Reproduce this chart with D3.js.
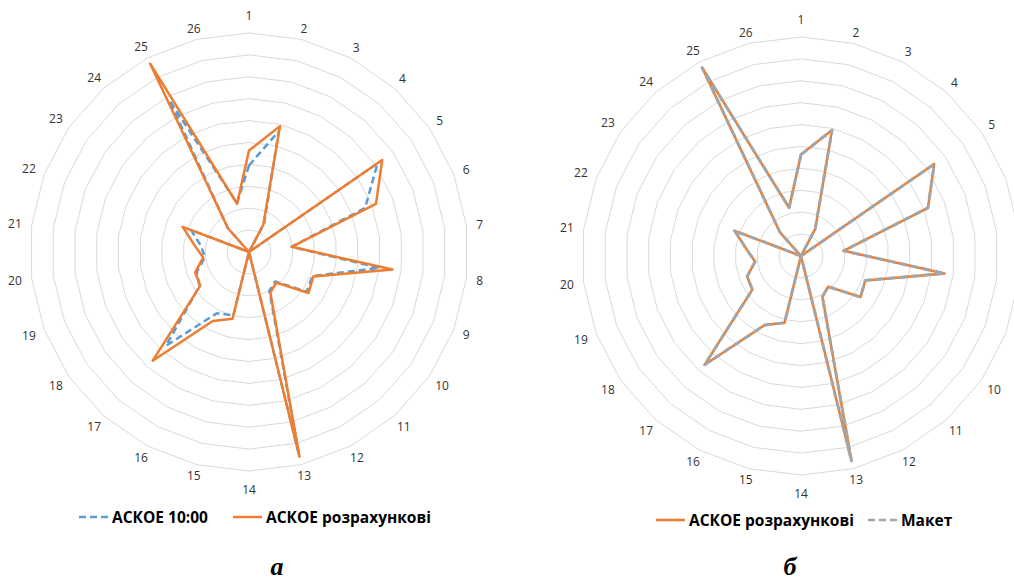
<!DOCTYPE html>
<html>
<head>
<meta charset="utf-8">
<script src="https://cdn.jsdelivr.net/npm/d3@7"></script>
<style>
  html, body { margin: 0; padding: 0; background: #ffffff; }
  svg { display: block; }
</style>
</head>
<body>
<svg id="chart" width="1014" height="581"></svg>
<script>
// Feeder indices around the radar
const categories = ["1","2","3","4","5","6","7","8","9","10","11","12","13",
                    "14","15","16","17","18","19","20","21","22","23","24","25","26"];

// Grid ring levels
const ringLevels = [1, 2, 3, 4, 5, 6, 7, 8, 9, 10];

// АСКОЕ 10:00
const askoe1000 = [3.95, 5.68, 1.50, 0, 7.13, 5.67, 1.96, 6.00, 3.10, 3.20, 1.80, 2.00, 9.60,
                   0, 2.98, 3.16, 5.72, 2.75, 2.55, 2.03, 2.20, 2.83, 0, 1.45, 7.81, 2.30];

// АСКОЕ розрахункові
const askoeCalc = [4.63, 5.92, 1.40, 0, 7.39, 6.20, 1.96, 6.60, 3.14, 3.30, 1.87, 2.10, 9.63,
                   0, 3.14, 3.56, 6.63, 2.70, 2.63, 2.11, 2.50, 3.24, 0, 1.45, 9.71, 2.27];

// Макет
const maket = [4.63, 5.92, 1.40, 0, 7.39, 6.20, 1.96, 6.60, 3.14, 3.30, 1.87, 2.10, 9.63,
               0, 3.14, 3.56, 6.63, 2.70, 2.63, 2.11, 2.50, 3.24, 0, 1.45, 9.71, 2.27];

const COLORS = { blue: "#5B9BD5", orange: "#ED7D31", gray: "#A5A5A5", grid: "#D9D9D9", text: "#333333" };

const svg = d3.select("#chart");
const R = 219;

const r = d3.scaleLinear().domain([0, 10]).range([0, R]);
const angle = d3.scalePoint().domain(categories).range([0, 2 * Math.PI * (categories.length - 1) / categories.length]);

const radial = d3.lineRadial()
  .angle((d, i) => angle(categories[i]))
  .radius(d => r(d))
  .curve(d3.curveLinearClosed);

function drawRadar(cx, cy, series, legend, caption) {
  const g = svg.append("g").attr("transform", `translate(${cx},${cy})`);

  // concentric polygon grid
  g.append("g").selectAll("path")
    .data(ringLevels)
    .join("path")
    .attr("d", lv => radial(categories.map(() => lv)))
    .attr("fill", "none")
    .attr("stroke", COLORS.grid)
    .attr("stroke-width", 1);

  // category labels, pushed out by half their width on the sides
  g.append("g").selectAll("text")
    .data(categories)
    .join("text")
    .attr("font-family", "Open Sans, sans-serif")
    .attr("font-size", 12)
    .attr("fill", COLORS.text)
    .attr("text-anchor", "middle")
    .attr("dominant-baseline", "central")
    .text(d => d)
    .each(function (d) {
      const a = angle(d);
      const w = this.getComputedTextLength();
      const s = Math.sin(a), c = Math.cos(a);
      const dist = Math.abs(s) < 0.01 ? 237 : 229 + (w / 2) * Math.abs(s);
      d3.select(this).attr("x", s * dist).attr("y", -c * dist);
    });

  // data series
  series.forEach(s => {
    g.append("path")
      .attr("d", radial(s.values))
      .attr("fill", "none")
      .attr("stroke", s.color)
      .attr("stroke-width", s.width)
      .attr("stroke-dasharray", s.dash || null)
      .attr("stroke-linejoin", "round")
      .attr("stroke-linecap", "butt");
  });

  // legend
  const lg = svg.append("g");
  legend.forEach(item => {
    lg.append("line")
      .attr("x1", item.x).attr("x2", item.x + 29)
      .attr("y1", item.y).attr("y2", item.y)
      .attr("stroke", item.color)
      .attr("stroke-width", item.width)
      .attr("stroke-dasharray", item.dash || null);
    lg.append("text")
      .attr("x", item.x + 33)
      .attr("y", item.y)
      .attr("dominant-baseline", "central")
      .attr("font-family", "Open Sans, sans-serif")
      .attr("font-weight", "bold")
      .attr("font-size", 15.5)
      .attr("fill", "#000000")
      .text(item.label);
  });

  // panel caption
  svg.append("text")
    .attr("x", caption.x)
    .attr("y", caption.y)
    .attr("text-anchor", "middle")
    .attr("font-family", "Liberation Serif, serif")
    .attr("font-weight", "bold")
    .attr("font-style", "italic")
    .attr("font-size", 26)
    .attr("fill", "#000000")
    .text(caption.text);
}

drawRadar(249, 252,
  [
    { values: askoe1000, color: COLORS.blue, width: 2.5, dash: "7,4" },
    { values: askoeCalc, color: COLORS.orange, width: 2.5 }
  ],
  [
    { x: 79, y: 517, color: COLORS.blue, width: 2.5, dash: "7,4", label: "АСКОЕ 10:00" },
    { x: 233, y: 517, color: COLORS.orange, width: 2.5, label: "АСКОЕ розрахункові" }
  ],
  { x: 277, y: 575, text: "а" }
);

drawRadar(801, 256,
  [
    { values: askoeCalc, color: COLORS.orange, width: 2.5 },
    { values: maket, color: COLORS.gray, width: 3, dash: "8,4" }
  ],
  [
    { x: 656, y: 520, color: COLORS.orange, width: 2.5, label: "АСКОЕ розрахункові" },
    { x: 868, y: 520, color: COLORS.gray, width: 2.5, dash: "7,4", label: "Макет" }
  ],
  { x: 790, y: 575, text: "б" }
);
</script>
</body>
</html>
